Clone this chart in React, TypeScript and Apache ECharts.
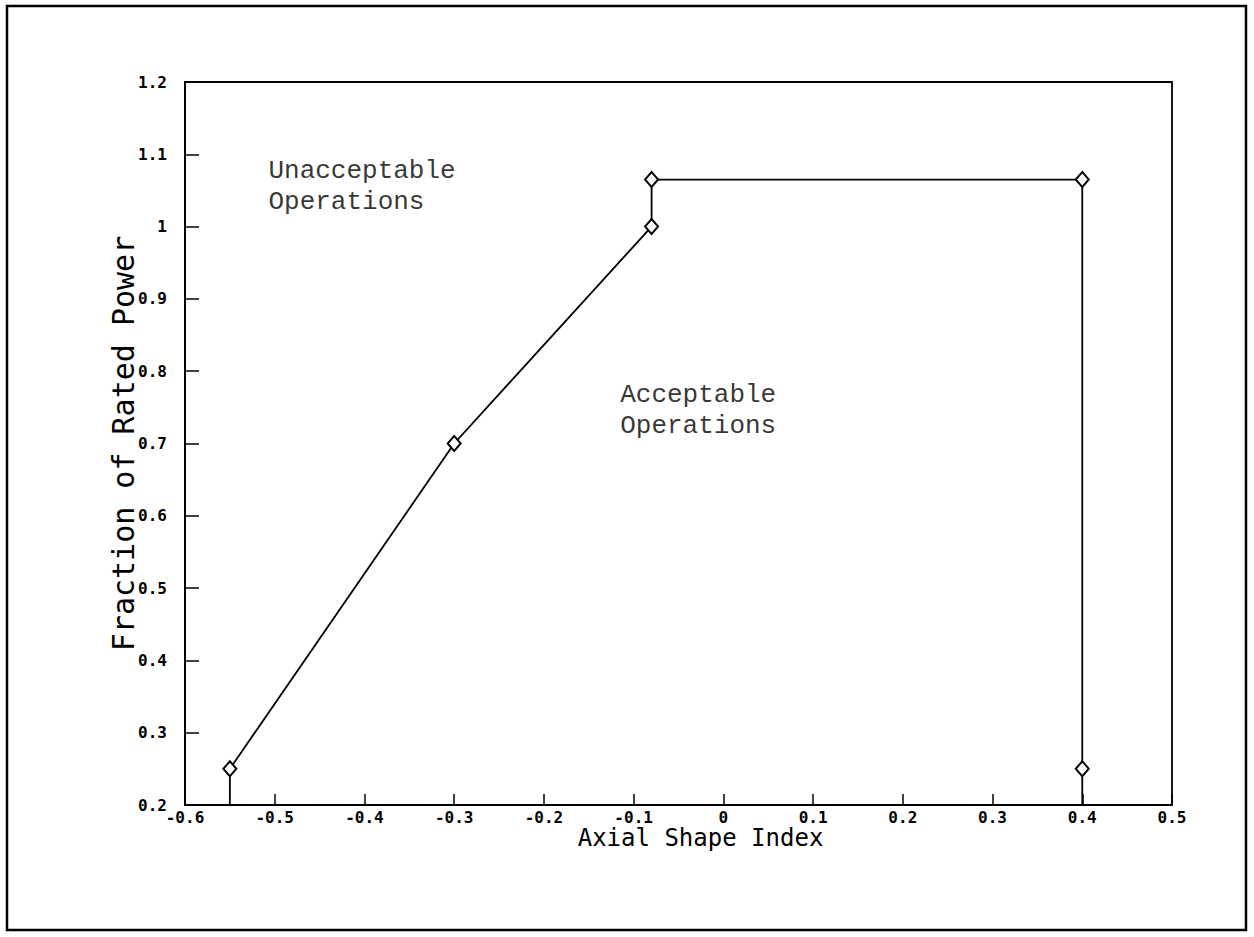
import React, { useEffect, useRef } from "react";
import * as echarts from "echarts";

const xTicks = [-0.6, -0.5, -0.4, -0.3, -0.2, -0.1, 0, 0.1, 0.2, 0.3, 0.4, 0.5];
const yTicks = [0.2, 0.3, 0.4, 0.5, 0.6, 0.7, 0.8, 0.9, 1, 1.1, 1.2];
const limitX = [-0.55, -0.55, -0.3, -0.08, -0.08, 0.4, 0.4, 0.4];
const limitY = [0.2, 0.25, 0.7, 1.0, 1.065, 1.065, 0.25, 0.2];
const markerShown = [false, true, true, true, true, true, true, false];
const xTitle = "Axial Shape Index";
const yTitle = "Fraction of Rated Power";
const regionLabels = [
  { x: -0.507, y: 1.055, text: "Unacceptable\nOperations" },
  { x: -0.115, y: 0.746, text: "Acceptable\nOperations" },
];

const fmt = (v: number) => {
  const r = Math.round(v * 10) / 10;
  return String(r);
};

export default function App() {
  const ref = useRef<HTMLDivElement>(null);
  useEffect(() => {
    const chart = echarts.init(ref.current!, undefined, { renderer: "svg" });
    const tickFont = { fontFamily: "DejaVu Sans Mono", fontSize: 16, color: "#000", fontWeight: "bold" as const };
    const data = limitX.map((x, i) => ({
      value: [x, limitY[i]],
      symbol: markerShown[i] ? "diamond" : "none",
    }));
    chart.setOption({
      animation: false,
      backgroundColor: "#fff",
      grid: {
        left: 185,
        right: 82,
        top: 82,
        bottom: 132,
        show: true,
        borderColor: "#000",
        borderWidth: 1.8,
      },
      xAxis: {
        type: "value",
        min: -0.6,
        max: 0.5,
        interval: 0.1,
        name: xTitle,
        nameLocation: "middle",
        nameGap: 21,
        nameMoveOverlap: false,
        nameTextStyle: { fontFamily: "DejaVu Sans Mono", fontSize: 24, color: "#000", padding: [0, 0, 0, 44] },
        axisLine: { show: true, onZero: false, lineStyle: { color: "#000", width: 1.8 } },
        axisTick: { show: true, inside: true, length: 11, lineStyle: { color: "#000", width: 1.5 } },
        axisLabel: { ...tickFont, margin: 4, formatter: fmt },
        splitLine: { show: false },
      },
      yAxis: {
        type: "value",
        min: 0.2,
        max: 1.2,
        interval: 0.1,
        name: yTitle,
        nameLocation: "middle",
        nameGap: 47,
        nameMoveOverlap: false,
        nameTextStyle: { fontFamily: "DejaVu Sans Mono", fontSize: 30, color: "#000" },
        axisLine: { show: true, onZero: false, lineStyle: { color: "#000", width: 1.8 } },
        axisTick: { show: true, inside: true, length: 14, lineStyle: { color: "#000", width: 1.5 } },
        axisLabel: { ...tickFont, margin: 18, formatter: fmt },
        splitLine: { show: false },
      },
      series: [
        {
          type: "line",
          data,
          symbolSize: [13, 15],
          lineStyle: { color: "#000", width: 1.8 },
          itemStyle: { color: "#fff", borderColor: "#000", borderWidth: 2 },
          z: 3,
        },
        {
          type: "scatter",
          data: regionLabels.map((r) => ({ value: [r.x, r.y], name: r.text })),
          symbolSize: 0,
          silent: true,
          label: {
            show: true,
            position: "right",
            distance: 0,
            formatter: (p: any) => p.name,
            fontFamily: "Liberation Mono",
            fontSize: 26,
            lineHeight: 31,
            color: "#000",
            align: "left",
          },
        },
      ],
      graphic: [
        {
          type: "rect",
          shape: { x: 7, y: 6, width: 1239, height: 924 },
          style: { fill: "none", stroke: "#000", lineWidth: 2.5 },
          silent: true,
        },
      ],
    });
    return () => chart.dispose();
  }, []);
  return <div ref={ref} style={{ width: 1254, height: 937, position: "absolute", left: 0, top: 0 }} />;
}
